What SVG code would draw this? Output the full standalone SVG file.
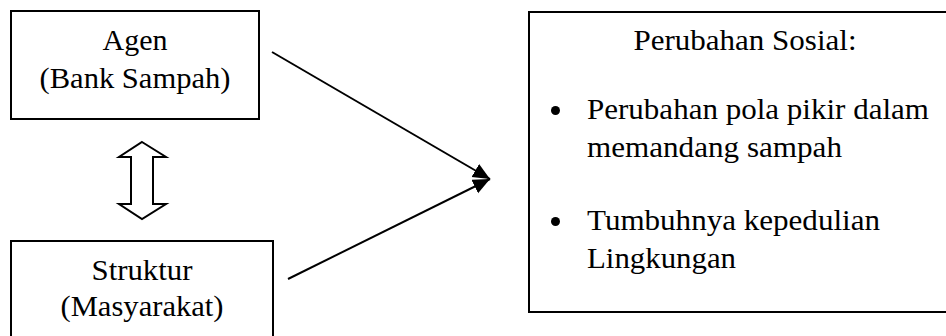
<svg xmlns="http://www.w3.org/2000/svg" width="946" height="336" viewBox="0 0 946 336">
<style>
.box{fill:#fff;stroke:#000;stroke-width:2}
.t{font-family:'Liberation Serif','Times New Roman',serif;font-size:29px;fill:#000}
.c{text-anchor:middle}
.ln{stroke:#000;stroke-width:2;fill:none}
</style>
<defs>
<marker id="ah" markerUnits="userSpaceOnUse" markerWidth="20" markerHeight="16" refX="17" refY="7.5" orient="auto">
<path d="M0,0 L17,7.5 L0,15 Z" fill="#000"/>
</marker>
</defs>
<rect width="946" height="336" fill="#fff"/>
<g id="agen">
<rect class="box" x="11" y="11" width="248" height="108"/>
<text class="t c" x="135" y="50" textLength="65" lengthAdjust="spacingAndGlyphs">Agen</text>
<text class="t c" x="135" y="88" textLength="191" lengthAdjust="spacingAndGlyphs">(Bank Sampah)</text>
</g>
<g id="struktur">
<rect class="box" x="11" y="241" width="262" height="100"/>
<text class="t c" x="142" y="280" textLength="101" lengthAdjust="spacingAndGlyphs">Struktur</text>
<text class="t c" x="142" y="316" textLength="163" lengthAdjust="spacingAndGlyphs">(Masyarakat)</text>
</g>
<g id="perubahan">
<rect class="box" x="529" y="12" width="425" height="300"/>
<text class="t c" x="745" y="50" textLength="223" lengthAdjust="spacingAndGlyphs">Perubahan Sosial:</text>
<circle cx="555.5" cy="110.5" r="4.5" fill="#000"/>
<text class="t" x="587" y="119" textLength="342" lengthAdjust="spacingAndGlyphs">Perubahan pola pikir dalam</text>
<text class="t" x="587" y="157" textLength="255" lengthAdjust="spacingAndGlyphs">memandang sampah</text>
<circle cx="555.5" cy="221.5" r="4.5" fill="#000"/>
<text class="t" x="587" y="230" textLength="293" lengthAdjust="spacingAndGlyphs">Tumbuhnya kepedulian</text>
<text class="t" x="587" y="268" textLength="149" lengthAdjust="spacingAndGlyphs">Lingkungan</text>
</g>
<g id="connectors">
<path class="ln" d="M142,142 L166,157 L153,157 L153,204 L166,204 L142,219 L119,204 L131,204 L131,157 L119,157 Z"/>
<line class="ln" x1="272" y1="52" x2="490" y2="179" marker-end="url(#ah)"/>
<line class="ln" x1="288" y1="279" x2="490" y2="179" marker-end="url(#ah)"/>
</g>
</svg>
